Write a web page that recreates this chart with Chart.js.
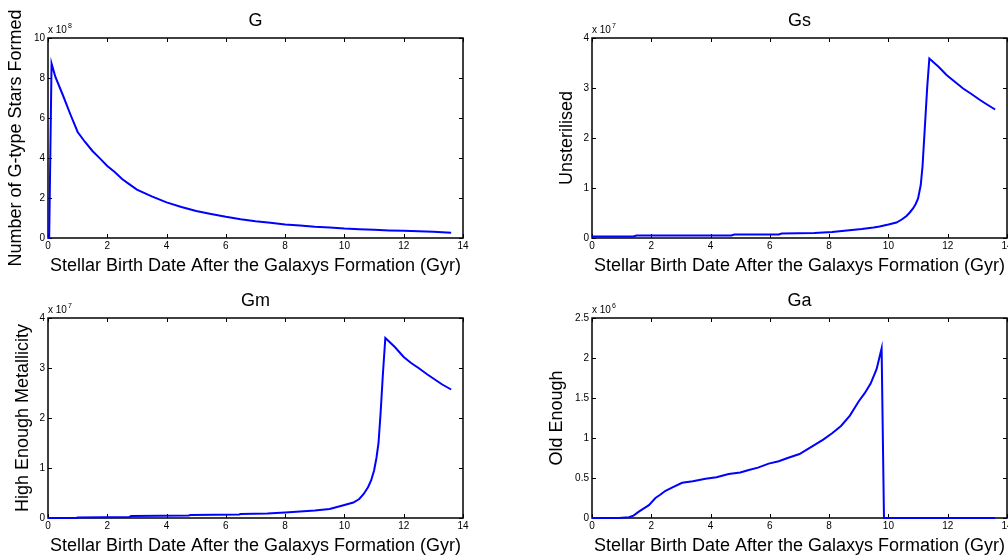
<!DOCTYPE html>
<html>
<head>
<meta charset="utf-8">
<script src="https://cdn.jsdelivr.net/npm/chart.js@4.4.0/dist/chart.umd.min.js"></script>
<style>
    html, body { margin: 0; padding: 0; background: #fff; overflow: hidden; width: 1008px; height: 557px; }
    canvas { position: absolute; }
</style>
</head>
<body>
<canvas id="c0"></canvas>
<canvas id="c1"></canvas>
<canvas id="c2"></canvas>
<canvas id="c3"></canvas>
<script>
// dados - valores de y em unidades de 10^expoente
var xLabel = 'Stellar Birth Date After the Galaxys Formation (Gyr)';
var xTicks = [0, 2, 4, 6, 8, 10, 12, 14];
var titulos = ['G', 'Gs', 'Gm', 'Ga'];
var rotulosY = ['Number of G-type Stars Formed', 'Unsterilised', 'High Enough Metallicity', 'Old Enough'];
var expoentes = [8, 7, 7, 6];
var yMaximos = [10, 4, 4, 2.5];
var yPassos = [2, 1, 1, 0.5];

// G (x 10^8)
var gX = [0, 0.04, 0.12, 0.25, 0.5, 0.75, 1.0, 1.25, 1.5, 1.75, 2.0, 2.25, 2.5, 2.75, 3.0, 3.5, 4.0, 4.5, 5.0, 5.5, 6.0, 6.5, 7.0, 7.5, 8.0, 8.5, 9.0, 9.5, 10.0, 10.5, 11.0, 11.5, 12.0, 12.5, 13.0, 13.6];
var gY = [0, 0, 8.72, 8.05, 7.15, 6.2, 5.3, 4.8, 4.35, 3.98, 3.6, 3.3, 2.95, 2.68, 2.42, 2.08, 1.78, 1.55, 1.35, 1.2, 1.06, 0.94, 0.84, 0.76, 0.68, 0.62, 0.56, 0.52, 0.47, 0.44, 0.41, 0.38, 0.36, 0.34, 0.31, 0.26];

// Gs (x 10^7)
var gsX = [0, 1.4, 1.5, 4.7, 4.8, 6.3, 6.4, 7.5, 8.1, 8.6, 9.1, 9.5, 9.7, 10.0, 10.27, 10.45, 10.61, 10.72, 10.83, 10.92, 11.0, 11.09, 11.15, 11.23, 11.31, 11.38, 11.7, 11.96, 12.25, 12.52, 12.8, 13.09, 13.3, 13.6];
var gsY = [0.03, 0.03, 0.05, 0.05, 0.07, 0.07, 0.09, 0.1, 0.12, 0.15, 0.18, 0.21, 0.23, 0.27, 0.31, 0.37, 0.44, 0.51, 0.59, 0.68, 0.79, 1.06, 1.43, 2.23, 3.03, 3.59, 3.42, 3.26, 3.12, 2.99, 2.88, 2.76, 2.68, 2.57];

// Gm (x 10^7)
var gmX = [0, 0.95, 1.0, 2.75, 2.8, 4.75, 4.8, 6.45, 6.5, 7.4, 8.0, 8.5, 9.0, 9.5, 9.75, 10.0, 10.3, 10.5, 10.65, 10.8, 10.9, 11.0, 11.08, 11.15, 11.22, 11.3, 11.38, 11.7, 12.0, 12.25, 12.5, 12.8, 13.1, 13.3, 13.6];
var gmY = [0, 0, 0.01, 0.02, 0.04, 0.05, 0.06, 0.07, 0.08, 0.09, 0.11, 0.13, 0.15, 0.18, 0.22, 0.26, 0.31, 0.38, 0.48, 0.62, 0.75, 0.95, 1.2, 1.5, 2.1, 2.9, 3.6, 3.42, 3.22, 3.1, 3.0, 2.87, 2.75, 2.67, 2.57];

// Ga (x 10^6)
var gaX = [0, 0.9, 1.25, 1.4, 1.58, 1.75, 1.92, 2.14, 2.3, 2.48, 2.75, 3.04, 3.4, 3.83, 4.2, 4.61, 5.0, 5.29, 5.6, 5.96, 6.3, 6.6, 7.0, 7.4, 7.8, 8.1, 8.4, 8.7, 9.0, 9.2, 9.4, 9.6, 9.77, 9.85, 10.0, 12.0, 13.6];
var gaY = [0, 0, 0.01, 0.03, 0.08, 0.12, 0.16, 0.25, 0.29, 0.34, 0.39, 0.44, 0.46, 0.49, 0.51, 0.55, 0.57, 0.6, 0.63, 0.68, 0.71, 0.75, 0.8, 0.89, 0.98, 1.06, 1.15, 1.28, 1.46, 1.56, 1.68, 1.86, 2.12, 0, 0, 0, 0];

var seriesX = [gX, gsX, gmX, gaX];
var seriesY = [gY, gsY, gmY, gaY];

// posicao de cada painel na pagina (canvas simetrico em volta da area do grafico)
var paineis = [
    { left: 0,   top: 0,   padTituloY: 5.5 },
    { left: 544, top: 0,   padTituloY: 11.9 },
    { left: 0,   top: 280, padTituloY: 12.5 },
    { left: 544, top: 280, padTituloY: 1.9 }
];
var LARG = 511, ALT = 278, EIXO_Y = 48, EIXO_X = 40;
var FONTE = '"Liberation Sans", Arial, sans-serif';

Chart.defaults.font.family = FONTE;
Chart.defaults.color = '#000';

// caixa estilo matlab com ticks para dentro nos 4 lados + "x 10^n"
var moldura = {
    id: 'moldura',
    beforeDatasetsDraw: function (chart) {
        var ctx = chart.ctx, a = chart.chartArea;
        var sx = chart.scales.x, sy = chart.scales.y;
        ctx.save();
        ctx.strokeStyle = '#000';
        ctx.lineWidth = 1.5;
        ctx.strokeRect(a.left, a.top, a.right - a.left, a.bottom - a.top);
        ctx.lineWidth = 1;
        ctx.beginPath();
        sx.ticks.forEach(function (t) {
            var px = Math.round(sx.getPixelForValue(t.value)) + 0.5;
            ctx.moveTo(px, a.bottom); ctx.lineTo(px, a.bottom - 4);
            ctx.moveTo(px, a.top); ctx.lineTo(px, a.top + 4);
        });
        sy.ticks.forEach(function (t) {
            var py = Math.round(sy.getPixelForValue(t.value)) + 0.5;
            ctx.moveTo(a.left, py); ctx.lineTo(a.left + 4, py);
            ctx.moveTo(a.right, py); ctx.lineTo(a.right - 4, py);
        });
        ctx.stroke();

        var exp = chart.options.plugins.moldura.expoente;
        ctx.fillStyle = '#000';
        ctx.textAlign = 'left';
        ctx.textBaseline = 'alphabetic';
        ctx.font = '10px ' + FONTE;
        ctx.fillText('x 10', a.left, a.top - 5.5);
        var w = ctx.measureText('x 10').width;
        ctx.font = '7px ' + FONTE;
        ctx.fillText(String(exp), a.left + w + 1, a.top - 10);
        ctx.restore();
    }
};

function criarPainel(i) {
    var p = paineis[i];
    var canvas = document.getElementById('c' + i);
    canvas.width = LARG;
    canvas.height = ALT;
    canvas.style.left = p.left + 'px';
    canvas.style.top = p.top + 'px';

    var pontos = [];
    for (var k = 0; k < seriesX[i].length; k++) {
        pontos.push({ x: seriesX[i][k], y: seriesY[i][k] });
    }

    new Chart(canvas, {
        type: 'line',
        data: {
            datasets: [{
                data: pontos,
                borderColor: '#0000ff',
                borderWidth: 2,
                pointRadius: 0,
                tension: 0,
                fill: false,
                clip: false
            }]
        },
        options: {
            responsive: false,
            animation: false,
            events: [],
            layout: { padding: 0 },
            plugins: {
                legend: { display: false },
                tooltip: { enabled: false },
                title: {
                    display: true,
                    text: titulos[i],
                    font: { size: 18, weight: 'normal' },
                    color: '#000',
                    padding: { top: 10.2, bottom: 6.2 }
                },
                moldura: { expoente: expoentes[i] }
            },
            scales: {
                x: {
                    type: 'linear',
                    min: xTicks[0],
                    max: xTicks[xTicks.length - 1],
                    afterBuildTicks: function (s) {
                        s.ticks = xTicks.map(function (v) { return { value: v }; });
                    },
                    afterFit: function (s) { s.height = EIXO_X; },
                    grid: { display: false, drawTicks: false },
                    border: { display: false },
                    ticks: { font: { size: 10 }, padding: 2, maxRotation: 0, autoSkip: false },
                    title: {
                        display: true,
                        text: xLabel,
                        font: { size: 18 },
                        padding: { top: 0, bottom: 1 }
                    }
                },
                y: {
                    type: 'linear',
                    min: 0,
                    max: yMaximos[i],
                    afterFit: function (s) { s.width = EIXO_Y; },
                    grid: { display: false, drawTicks: false },
                    border: { display: false },
                    ticks: {
                        stepSize: yPassos[i],
                        font: { size: 10 },
                        padding: 3,
                        callback: function (v) { return String(Math.round(v * 10) / 10); }
                    },
                    title: {
                        display: true,
                        text: rotulosY[i],
                        font: { size: 18 },
                        padding: { top: p.padTituloY, bottom: 0 }
                    }
                },
                // eixo vazio a direita so para deixar a area do grafico centrada no canvas
                yDir: {
                    type: 'linear',
                    position: 'right',
                    display: true,
                    afterFit: function (s) { s.width = EIXO_Y; },
                    grid: { display: false, drawTicks: false },
                    border: { display: false },
                    ticks: { display: false }
                }
            }
        },
        plugins: [moldura]
    });
}

for (var i = 0; i < paineis.length; i++) {
    criarPainel(i);
}
</script>
</body>
</html>
